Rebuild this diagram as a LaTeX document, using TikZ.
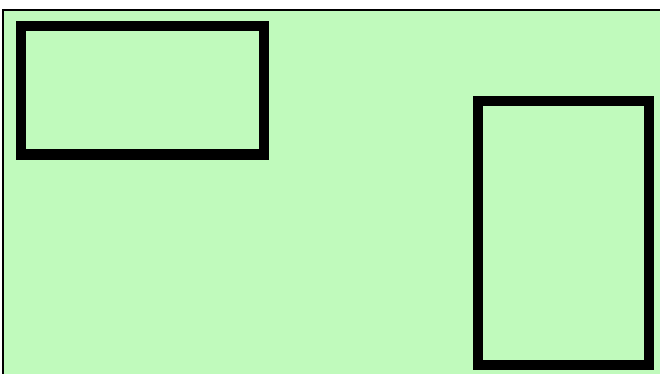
\documentclass[tikz,border=0pt]{standalone}
\begin{document}
\begin{tikzpicture}[x=1pt,y=-1pt,
  panel/.style={draw=black,line width=1.5pt,fill=paleg},
  frame/.style={draw=black,line width=10pt,rectangle,inner sep=0pt,outer sep=0pt,fill=paleg}]
\definecolor{paleg}{RGB}{192,250,188}
\useasboundingbox (0,0) rectangle (660,374);
\fill[white] (0,0) rectangle (660,374);
\draw[panel] (3,10) rectangle (668,382);
\node[frame,minimum width=243pt,minimum height=128.5pt] (boxA) at (142,90.25) {};
\node[frame,minimum width=171.5pt,minimum height=263pt] (boxB) at (563.25,233) {};
\end{tikzpicture}
\end{document}
